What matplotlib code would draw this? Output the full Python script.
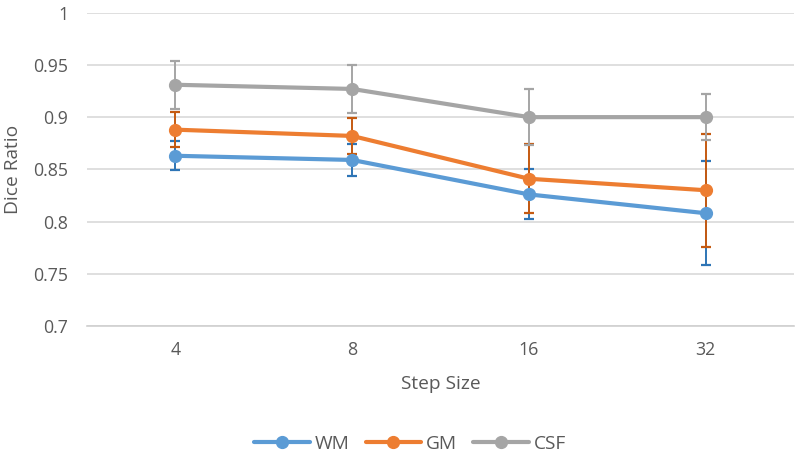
import matplotlib
matplotlib.use("Agg")
from matplotlib import pyplot as plt
import numpy as np

plt.rcParams['font.family'] = ['Open Sans', 'DejaVu Sans']

# data
step_sizes = ['4', '8', '16', '32']
wm = [0.863, 0.859, 0.826, 0.808]
wm_err = [0.014, 0.015, 0.024, 0.050]
gm = [0.888, 0.882, 0.841, 0.830]
gm_err = [0.017, 0.017, 0.033, 0.054]
csf = [0.931, 0.927, 0.900, 0.900]
csf_err = [0.023, 0.023, 0.027, 0.022]

series = [
    ('WM', wm, wm_err, '#5B9BD5', '#2E75B6'),
    ('GM', gm, gm_err, '#ED7D31', '#C55A11'),
    ('CSF', csf, csf_err, '#A5A5A5', '#A5A5A5'),
]

fig = plt.figure(figsize=(8, 4.58), dpi=100)
ax = fig.add_axes([87/800, 1-326/458, 707/800, (326-12.7)/458])

x = np.arange(len(step_sizes))
for name, vals, err, col, ecol in series:
    ax.errorbar(x, vals, yerr=err, fmt='none', ecolor=ecol, elinewidth=1.4,
                capsize=3.6, capthick=1.6, zorder=3)
for name, vals, err, col, ecol in series:
    ax.plot(x, vals, color=col, lw=3, marker='o', markersize=8.5,
            label=name, zorder=4, solid_capstyle='round')

ax.set_xlim(-0.5, 3.5)
ax.set_ylim(0.7, 1.0)
ax.set_yticks(np.arange(0.7, 1.001, 0.05))
ax.set_yticklabels(['0.7', '0.75', '0.8', '0.85', '0.9', '0.95', '1'])
ax.set_xticks(x)
ax.set_xticklabels(step_sizes)
ax.grid(axis='y', color='#D9D9D9', lw=1.2, zorder=0)
for s in ['top', 'right', 'left']:
    ax.spines[s].set_visible(False)
ax.spines['bottom'].set_color('#D0D0D0')
ax.spines['bottom'].set_linewidth(1.2)
ax.tick_params(axis='y', length=0, pad=13.5, labelsize=12.8, labelcolor='#595959')
ax.tick_params(axis='x', length=0, pad=10.5, labelsize=12.8, labelcolor='#595959')

ax.set_xlabel('Step Size', fontsize=13.8, color='#595959', labelpad=12)
ax.set_ylabel('Dice Ratio', fontsize=13.8, color='#595959', labelpad=8)

fig.legend(loc='center', bbox_to_anchor=(410/800, 1-444/458), ncol=3,
           frameon=False, fontsize=13.8, labelcolor='#595959', handlelength=2.9,
           columnspacing=0.85, handletextpad=0.25)

plt.savefig('out.png', dpi=100)
